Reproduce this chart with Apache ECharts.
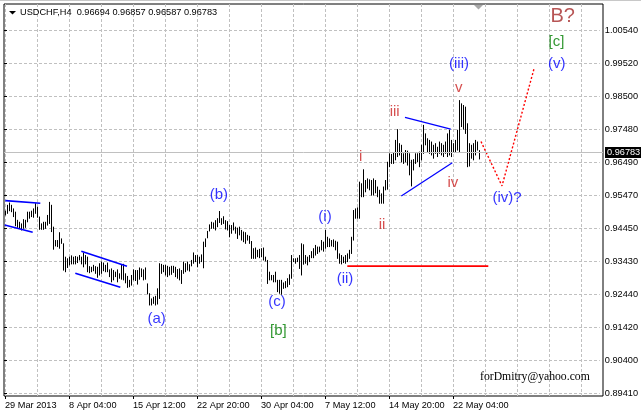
<!DOCTYPE html>
<html><head><meta charset="utf-8">
<script src="https://cdn.jsdelivr.net/npm/echarts/dist/echarts.min.js"></script>
<style>html,body{margin:0;padding:0;background:#fff}#c{width:641px;height:412px}</style>
</head><body><div id="c"></div>
<script>
// ---------- data ----------
const highs = [
 0.9500,0.9518,0.9525,0.9518,0.9507,0.9497,0.9472,0.9466,0.9461,0.9474,
 0.9472,0.9497,0.9497,0.9500,0.9507,0.9523,0.9512,0.9482,0.9461,0.9466,
 0.9466,0.9487,0.9527,0.9518,0.9451,0.9410,0.9410,0.9434,0.9415,0.9400,
 0.9359,0.9354,0.9359,0.9363,0.9359,0.9361,0.9359,0.9364,0.9359,0.9371,
 0.9364,0.9359,0.9330,0.9328,0.9334,0.9330,0.9328,0.9339,0.9344,0.9341,
 0.9334,0.9341,0.9320,0.9323,0.9318,0.9313,0.9320,0.9308,0.9334,0.9337,
 0.9308,0.9300,0.9288,0.9303,0.9320,0.9318,0.9318,0.9326,0.9323,0.9320,
 0.9326,0.9277,0.9247,0.9231,0.9236,0.9239,0.9262,0.9339,0.9337,0.9334,
 0.9334,0.9331,0.9328,0.9331,0.9331,0.9328,0.9321,0.9323,0.9318,0.9344,
 0.9339,0.9344,0.9336,0.9349,0.9372,0.9364,0.9364,0.9359,0.9366,0.9405,
 0.9415,0.9438,0.9458,0.9466,0.9464,0.9471,0.9477,0.9499,0.9477,0.9483,
 0.9471,0.9468,0.9456,0.9456,0.9464,0.9451,0.9448,0.9451,0.9441,0.9436,
 0.9434,0.9426,0.9423,0.9407,0.9385,0.9387,0.9380,0.9383,0.9385,0.9387,
 0.9359,0.9349,0.9313,0.9303,0.9303,0.9313,0.9288,0.9288,0.9288,0.9280,
 0.9284,0.9293,0.9305,0.9364,0.9354,0.9354,0.9356,0.9364,0.9400,0.9397,
 0.9364,0.9359,0.9364,0.9376,0.9385,0.9395,0.9390,0.9390,0.9410,0.9405,
 0.9441,0.9420,
 0.9415,0.9410,0.9412,0.9408,0.9405,0.9369,0.9364,0.9359,0.9364,0.9369,
 0.9380,0.9420,0.9502,0.9507,0.9510,0.9589,0.9584,0.9627,0.9594,0.9599,
 0.9596,0.9594,0.9599,0.9594,0.9574,0.9564,0.9553,0.9574,0.9594,0.9650,
 0.9676,0.9674,0.9678,0.9717,0.9750,0.9707,0.9702,0.9676,0.9686,0.9684,
 0.9676,0.9656,0.9658,0.9676,0.9676,0.9681,0.9702,0.9763,0.9737,0.9722,
 0.9717,0.9712,0.9702,0.9707,0.9696,0.9712,0.9707,0.9702,0.9712,0.9737,
 0.9748,0.9717,0.9707,0.9717,0.9748,0.9839,0.9829,0.9824,0.9819,0.9768,
 0.9707,0.9702,0.9707,0.9717,0.9712,0.96857
];
const lows = [
 0.9487,0.9492,0.9500,0.9497,0.9482,0.9454,0.9449,0.9446,0.9441,0.9446,
 0.9449,0.9466,0.9477,0.9482,0.9480,0.9492,0.9480,0.9443,0.9443,0.9443,
 0.9446,0.9456,0.9461,0.9436,0.9382,0.9392,0.9390,0.9385,0.9400,0.9318,
 0.9313,0.9326,0.9334,0.9337,0.9337,0.9337,0.9341,0.9349,0.9337,0.9328,
 0.9337,0.9313,0.9310,0.9313,0.9316,0.9308,0.9296,0.9303,0.9308,0.9316,
 0.9313,0.9313,0.9298,0.9282,0.9288,0.9298,0.9282,0.9293,0.9290,0.9288,
 0.9279,0.9265,0.9267,0.9272,0.9288,0.9286,0.9275,0.9290,0.9298,0.9288,
 0.9290,0.9245,0.9211,0.9211,0.9216,0.9211,0.9214,0.9231,0.9308,0.9313,
 0.9303,0.9298,0.9303,0.9305,0.9311,0.9298,0.9293,0.9288,0.9277,0.9308,
 0.9313,0.9318,0.9315,0.9331,0.9339,0.9344,0.9328,0.9339,0.9344,0.9325,
 0.9390,0.9417,0.9438,0.9446,0.9446,0.9441,0.9451,0.9464,0.9458,0.9461,
 0.9444,0.9441,0.9420,0.9431,0.9441,0.9431,0.9415,0.9426,0.9410,0.9405,
 0.9400,0.9410,0.9400,0.9354,0.9354,0.9354,0.9359,0.9356,0.9359,0.9349,
 0.9346,0.9277,0.9288,0.9288,0.9282,0.9282,0.9252,0.9247,0.9244,0.9262,
 0.9264,0.9267,0.9274,0.9293,0.9344,0.9339,0.9344,0.9323,0.9303,0.9336,
 0.9339,0.9334,0.9344,0.9356,0.9356,0.9364,0.9369,0.9374,0.9380,0.9376,
 0.9385,0.9390,
 0.9390,0.9392,0.9390,0.9380,0.9354,0.9339,0.9337,0.9341,0.9339,0.9344,
 0.9354,0.9369,0.9410,0.9477,0.9477,0.9477,0.9543,0.9543,0.9558,0.9569,
 0.9564,0.9548,0.9548,0.9555,0.9543,0.9523,0.9523,0.9523,0.9564,0.9566,
 0.9635,0.9645,0.9645,0.9656,0.9666,0.9671,0.9650,0.9645,0.9650,0.9640,
 0.9610,0.9576,0.9625,0.9645,0.9650,0.9635,0.9656,0.9676,0.9702,0.9681,
 0.9676,0.9671,0.9661,0.9676,0.9666,0.9676,0.9671,0.9666,0.9676,0.9666,
 0.9671,0.9666,0.9681,0.9681,0.9686,0.9681,0.9758,0.9750,0.9737,0.9635,
 0.9637,0.9661,0.9656,0.9671,0.9686,0.96587
];
const xTickLabels = ['29 Mar 2013','8 Apr 04:00','15 Apr 12:00','22 Apr 20:00','30 Apr 04:00','7 May 12:00','14 May 20:00','22 May 04:00'];
const yTickLabels = ['0.89410','0.90400','0.91420','0.92440','0.93430','0.94450','0.95470','0.96490','0.97480','0.98500','0.99520','1.00540'];
const symbolName = 'USDCHF,H4';
const lastQuote = [0.96694, 0.96857, 0.96587, 0.96783]; // open high low close
const blueLabels = [
 [75.6, 0.9167, '(a)'], [106.65, 0.9548, '(b)'], [135.75, 0.9219, '(c)'],
 [159.75, 0.9480, '(i)'], [169.75, 0.9290, '(ii)'], [226.75, 0.9950, '(iii)'],
 [250.75, 0.9538, '(iv)?'], [275.65, 0.9950, '(v)']
];
const greenLabels = [[136.4, 0.9132, '[b]'], [275.5, 1.0018, '[c]']];
const brownLabels = [[278.6, 1.0094, 'B?']];
const redLabels = [[177.6, 0.9666, 'i'], [188.25, 0.9458, 'ii'], [194.6, 0.9802, 'iii'], [223.65, 0.9586, 'iv'], [226.6, 0.9878, 'v']];
const channelLines = [
 [[-0.1, 0.9531], [17.4, 0.9523]],
 [[-0.4, 0.9456], [13.6, 0.9434]],
 [[37.9, 0.9376], [60.75, 0.9330]],
 [[34.9, 0.9308], [57.4, 0.9265]]
];
const triangleLines = [
 [[199.75, 0.9786], [222.6, 0.9750]],
 [[197.9, 0.9545], [223.4, 0.9647]]
];
const supportLine = [[170.9, 0.9330], [241.4, 0.9330]];
const projectionLine = [[237.75, 0.9712], [248.25, 0.9576], [264.25, 0.9935]];
const watermark = 'forDmitry@yahoo.com';

// ---------- chart ----------
const FONT = 'Liberation Sans';
const xCats = [];
for (let i = 0; i <= 288; i++) xCats.push(i % 32 === 0 && i / 32 < xTickLabels.length ? xTickLabels[i / 32] : '');

function lineSeries(pts, color, width, type) {
  return {type: 'line', xAxisIndex: 0, yAxisIndex: 0, data: pts, symbol: 'none', silent: true,
    lineStyle: {color: color, width: width, type: type}, z: 4, clip: false, animation: false};
}
function labelSeries(arr, color, size) {
  return {type: 'scatter', xAxisIndex: 0, yAxisIndex: 0, silent: true, z: 5, animation: false,
    data: arr.map(d => ({value: [d[0], d[1]], name: d[2]})),
    symbolSize: 1, itemStyle: {color: 'rgba(0,0,0,0)'},
    label: {show: true, position: 'inside', formatter: '{b}', color: color, fontFamily: FONT, fontSize: size}};
}

const series = [
  {type: 'line', xAxisIndex: 0, yAxisIndex: 0, data: [], silent: true, z: 1,
   markLine: {symbol: 'none', silent: true, animation: false, precision: 5,
     lineStyle: {color: '#c0c0c0', type: 'solid', width: 1},
     label: {show: true, position: 'end', distance: 2, formatter: lastQuote[3].toFixed(5),
       backgroundColor: '#000', color: '#fff', fontFamily: FONT, fontSize: 9.2, padding: [1, 1, 1, 2], lineHeight: 9},
     data: [{yAxis: lastQuote[3]}]}},
  {type: 'custom', xAxisIndex: 0, yAxisIndex: 0, silent: true, z: 3, animation: false,
   data: highs.map((h, i) => [i, h, lows[i]]), encode: {x: 0, y: [1, 2]},
   renderItem: function (params, api) {
     const x = api.value(0);
     const a = api.coord([x, api.value(1)]);
     const b = api.coord([x, api.value(2)]);
     return {type: 'line', shape: {x1: a[0], y1: a[1], x2: b[0], y2: b[1] + 0.5}, style: {stroke: '#000', lineWidth: 1}};
   }}
];
channelLines.forEach(l => series.push(lineSeries(l, '#0000ff', 1.6, 'solid')));
triangleLines.forEach(l => series.push(lineSeries(l, '#0000ff', 1.2, 'solid')));
series.push(lineSeries(supportLine, '#ff0000', 1.6, 'solid'));
series.push(lineSeries(projectionLine, '#ff0000', 1.4, [2, 2]));
series.push(labelSeries(blueLabels, '#0000ff', 15));
series.push(labelSeries(greenLabels, '#008000', 15));
series.push(labelSeries(brownLabels, '#a52a2a', 20));
series.push(labelSeries(redLabels, '#cc2222', 15));

const gridLine = {color: '#c0c0c0', type: [3, 2], width: 1};
const option = {
  animation: false,
  backgroundColor: '#fff',
  title: [
    {text: symbolName + '  ' + lastQuote.map(v => v.toFixed(5)).join(' '), left: 20, top: 7, padding: 0,
     textStyle: {fontFamily: FONT, fontSize: 9.2, fontWeight: 'normal', color: '#000', lineHeight: 11}},
    {text: watermark, left: 480, top: 370, padding: 0,
     textStyle: {fontFamily: 'Liberation Serif', fontSize: 11.7, fontWeight: 'normal', color: '#000', lineHeight: 14}}
  ],
  graphic: [
    {type: 'rect', shape: {x: 0, y: 0, width: 641, height: 1}, style: {fill: '#c8c8c8'}},
    {type: 'polygon', shape: {points: [[9, 11], [16, 11], [12.5, 14.5]]}, style: {fill: '#000'}},
    {type: 'polygon', shape: {points: [[474, 5], [483, 5], [478.5, 9.5]]}, style: {fill: '#a8a8a8'}}
  ],
  grid: [
    {left: 4, right: 38, top: 4, bottom: 16, show: true, borderColor: '#000', borderWidth: 1, backgroundColor: 'transparent'},
    {left: 5, right: 60, top: 4, bottom: 16},
    {left: 4, right: 38, top: 30, bottom: 19}
  ],
  xAxis: [
    {gridIndex: 0, type: 'value', min: -0.75, max: 298.75, show: false},
    {gridIndex: 1, type: 'category', data: xCats, boundaryGap: false,
     axisLine: {show: false},
     axisTick: {show: true, length: 3, interval: (i) => xCats[i] !== '', lineStyle: {color: '#000'}},
     axisLabel: {interval: (i) => xCats[i] !== '', align: 'left', margin: 4, fontFamily: FONT, fontSize: 9.2, color: '#000', lineHeight: 10},
     splitLine: {show: true, interval: (i) => i % 16 === 0, lineStyle: gridLine}},
    {gridIndex: 2, type: 'value', min: 0, max: 1, show: false}
  ],
  yAxis: [
    {gridIndex: 0, type: 'value', min: 0.89319, max: 1.01337, show: false},
    {gridIndex: 1, type: 'value', min: 0, max: 1, show: false},
    {gridIndex: 2, type: 'value', min: 0, max: 11, interval: 1, position: 'right',
     axisLine: {show: false},
     axisTick: {show: true, length: 3, lineStyle: {color: '#000'}},
     axisLabel: {formatter: (v) => yTickLabels[Math.round(v)] || '', margin: 5, fontFamily: FONT, fontSize: 9.2, color: '#000'},
     splitLine: {show: true, lineStyle: gridLine}}
  ],
  series: series
};
const chart = echarts.init(document.getElementById('c'));
chart.setOption(option);
</script>
</body></html>
